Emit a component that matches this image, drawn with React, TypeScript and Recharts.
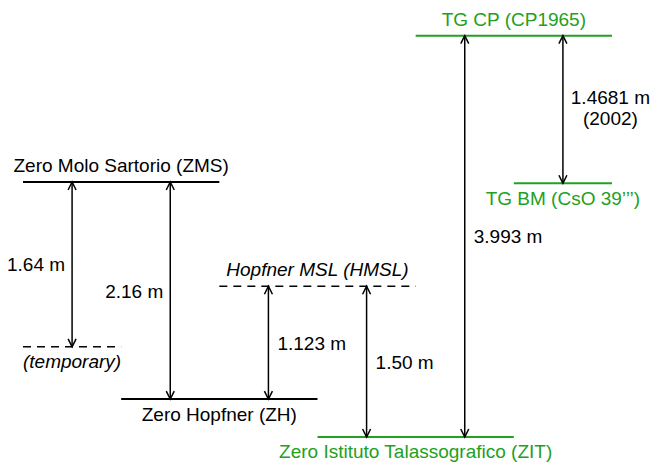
import React from "react";
import { ComposedChart, XAxis, YAxis, ReferenceLine } from "recharts";

// Datum levels, heights in metres above ZIT
const levelNames = [
  "Zero Molo Sartorio (ZMS)",
  "(temporary)",
  "Zero Hopfner (ZH)",
  "Hopfner MSL (HMSL)",
  "Zero Istituto Talassografico (ZIT)",
  "TG CP (CP1965)",
  "TG BM (CsO 39’’’)",
];
const levelHeights = [2.537, 0.897, 0.377, 1.5, 0, 3.993, 2.525];
const levelStart = [0, 0, 2, 4, 6, 8, 10];
const levelEnd = [4, 2, 6, 8, 10, 12, 12];
const levelKind = ["solid", "dashed", "solid", "dashed", "tg", "tg", "tg"];
const levelLabelSide = ["top", "bottom", "bottom", "top", "bottom", "top", "bottom"];

// Height differences between levels
const arrowLabels = ["1.64 m", "2.16 m", "1.123 m", "1.50 m", "3.993 m", "1.4681 m"];
const arrowNotes = ["", "", "", "", "", "(2002)"];
const arrowCol = [1, 3, 5, 7, 9, 11];
const arrowTop = [2.537, 2.537, 1.5, 1.5, 3.993, 3.993];
const arrowBottom = [0.897, 0.377, 0.377, 0, 0, 2.525];
const arrowLabelSide = ["left", "left", "right", "right", "right", "right"];

const GREEN = "#22a022";
const FONT = "'Liberation Sans', Arial, Helvetica, sans-serif";
const FS = 19;

function ArrowShape(props: any) {
  const { x1, y1, x2, y2 } = props;
  const top = Math.min(y1, y2);
  const bot = Math.max(y1, y2);
  const x = x1;
  const h = 8;
  const w = 4;
  return (
    <g stroke="#000" strokeWidth={1.5} fill="none">
      <line x1={x} y1={top} x2={x} y2={bot} />
      <polyline points={`${x - w},${top + h} ${x},${top} ${x + w},${top + h}`} />
      <polyline points={`${x - w},${bot - h} ${x},${bot} ${x + w},${bot - h}`} />
    </g>
  );
}

function arrowLabel(i: number) {
  const side = arrowLabelSide[i];
  const note = arrowNotes[i];
  return (props: any) => {
    const vb = props.viewBox || {};
    const x = vb.x ?? 0;
    const y = (vb.y ?? 0) + (vb.height ?? 0) / 2;
    if (note) {
      const cx = x + 47.5;
      return (
        <g fontFamily={FONT} fontSize={FS} fill="#000">
          <text x={cx} y={y - 5} textAnchor="middle">{arrowLabels[i]}</text>
          <text x={cx} y={y + 16} textAnchor="middle">{note}</text>
        </g>
      );
    }
    return (
      <text
        x={side === "left" ? x - 7 : x + 9}
        y={y + 7}
        textAnchor={side === "left" ? "end" : "start"}
        fontFamily={FONT}
        fontSize={FS}
        fill="#000"
      >
        {arrowLabels[i]}
      </text>
    );
  };
}

export default function App() {
  return (
    <div style={{ position: "absolute", left: 0, top: 0, background: "#fff" }}>
      <ComposedChart
        width={652}
        height={464}
        margin={{ top: 35, right: 40, bottom: 27, left: 23 }}
        style={{ fontFamily: FONT }}
      >
        <XAxis type="number" dataKey="x" domain={[0, 12]} hide />
        <YAxis type="number" dataKey="y" domain={[0, 4]} hide />

        {levelNames.map((name, i) => {
          const kind = levelKind[i];
          const color = kind === "tg" ? GREEN : "#000";
          return (
            <ReferenceLine
              key={name}
              segment={[
                { x: levelStart[i], y: levelHeights[i] },
                { x: levelEnd[i], y: levelHeights[i] },
              ]}
              stroke={color}
              strokeWidth={kind === "dashed" ? 1.5 : 2}
              strokeDasharray={kind === "dashed" ? "8 6" : undefined}
              ifOverflow="extendDomain"
              label={{
                value: name,
                position: levelLabelSide[i] as any,
                offset: levelLabelSide[i] === "top" ? 10 : 8,
                fill: color,
                fontSize: FS,
                fontStyle: kind === "dashed" ? "italic" : "normal",
              }}
            />
          );
        })}

        {arrowLabels.map((lab, i) => (
          <ReferenceLine
            key={lab}
            segment={[
              { x: arrowCol[i], y: arrowTop[i] },
              { x: arrowCol[i], y: arrowBottom[i] },
            ]}
            ifOverflow="extendDomain"
            shape={ArrowShape}
            label={arrowLabel(i)}
          />
        ))}
      </ComposedChart>
    </div>
  );
}
